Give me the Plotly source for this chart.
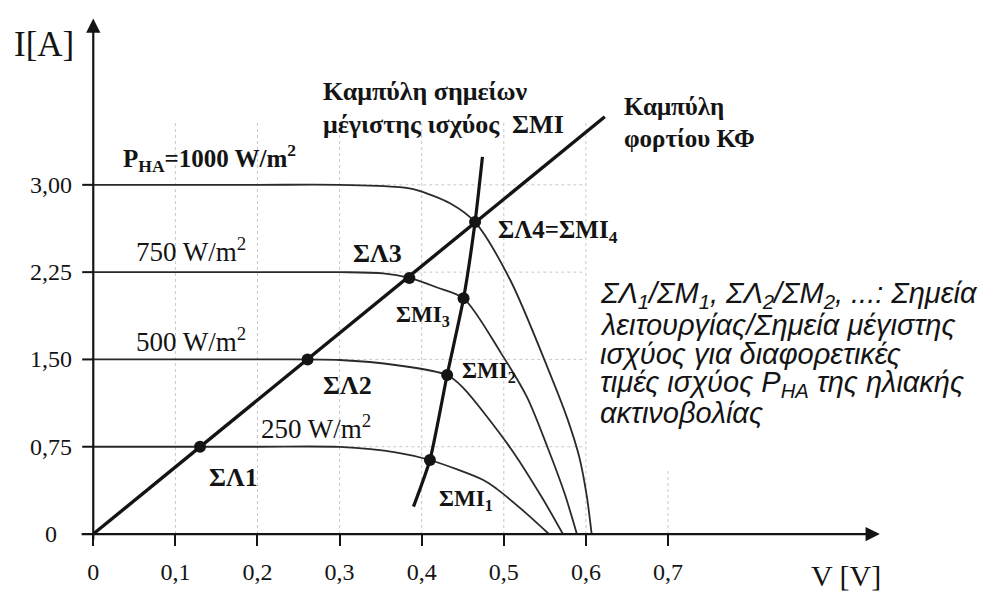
import plotly.graph_objects as go

# ---- data (V in volts, I in amperes) ----
v_1000 = [0.0, 0.20, 0.30, 0.373, 0.394, 0.435, 0.465, 0.508, 0.555, 0.577, 0.592, 0.601, 0.607]
i_1000 = [3.00, 3.00, 3.00, 2.98, 2.955, 2.84, 2.68, 2.18, 1.40, 1.00, 0.66, 0.33, 0.0]

v_750 = [0.0, 0.20, 0.30, 0.353, 0.385, 0.418, 0.451, 0.497, 0.528, 0.553, 0.574, 0.589]
i_750 = [2.25, 2.25, 2.25, 2.24, 2.20, 2.12, 2.025, 1.55, 1.18, 0.75, 0.35, 0.0]

v_500 = [0.0, 0.20, 0.30, 0.37, 0.431, 0.450, 0.508, 0.546, 0.572]
i_500 = [1.50, 1.50, 1.495, 1.45, 1.366, 1.26, 0.74, 0.32, 0.0]

v_250 = [0.0, 0.20, 0.30, 0.37, 0.410, 0.475, 0.491, 0.527, 0.555]
i_250 = [0.75, 0.75, 0.748, 0.70, 0.636, 0.464, 0.39, 0.18, 0.0]

# load line (Καμπύλη φορτίου)
v_load = [0.0, 0.623]
i_load = [0.0, 3.585]

# maximum power point curve (ΣΜΙ)
v_mpp = [0.390, 0.410, 0.431, 0.451, 0.465, 0.474]
i_mpp = [0.235, 0.636, 1.366, 2.025, 2.68, 3.24]

# operating points ΣΛ1..ΣΛ4 and max power points ΣΜΙ1..ΣΜΙ3
v_op = [0.130, 0.261, 0.385, 0.465]
i_op = [0.75, 1.50, 2.20, 2.68]
v_mp = [0.410, 0.431, 0.451]
i_mp = [0.636, 1.366, 2.025]

x_ticks = [0, 0.1, 0.2, 0.3, 0.4, 0.5, 0.6, 0.7]
x_ticktext = ["0", "0,1", "0,2", "0,3", "0,4", "0,5", "0,6", "0,7"]
y_ticks = [0, 0.75, 1.50, 2.25, 3.00]
y_ticktext = ["0", "0,75", "1,50", "2,25", "3,00"]

# ---- layout geometry ----
W, H = 986, 597
X_RANGE = [-0.1136, 1.0873]
Y_RANGE = [-0.541, 4.588]
SERIF = "Liberation Serif, Times New Roman, serif"
SANS = "Liberation Sans, Arial, sans-serif"
INK = "#141414"


def paper(px, py):
    return px / W, 1 - py / H


fig = go.Figure()

# faint dotted grid
grid_style = dict(color="#c8c8c8", width=1, dash="dot")
for xv in x_ticks[1:]:
    top = 3.55 if xv <= 0.6 else 0.55
    fig.add_shape(type="line", xref="x", yref="y", x0=xv, x1=xv, y0=0, y1=top,
                  line=grid_style, layer="below")
for yv in y_ticks[1:]:
    fig.add_shape(type="line", xref="x", yref="y", x0=0, x1=0.6, y0=yv, y1=yv,
                  line=grid_style, layer="below")

# I-V curves
for vv, ii in [(v_1000, i_1000), (v_750, i_750), (v_500, i_500), (v_250, i_250)]:
    fig.add_trace(go.Scatter(x=vv, y=ii, mode="lines",
                             line=dict(color="#2a2a2a", width=1.8, shape="spline", smoothing=0.8),
                             hoverinfo="skip", showlegend=False))

# load line and max power curve
fig.add_trace(go.Scatter(x=v_load, y=i_load, mode="lines",
                         line=dict(color=INK, width=3.4), showlegend=False))
fig.add_trace(go.Scatter(x=v_mpp, y=i_mpp, mode="lines",
                         line=dict(color=INK, width=3.2, shape="spline", smoothing=0.6),
                         showlegend=False))

# points
fig.add_trace(go.Scatter(x=v_op + v_mp, y=i_op + i_mp, mode="markers",
                         marker=dict(color=INK, size=12), showlegend=False))

annotations = []

# axis arrows
annotations.append(dict(x=0.958, y=0, ax=-0.016, ay=0, xref="x", yref="y", axref="x", ayref="y",
                        text="", showarrow=True, arrowhead=2, arrowsize=1.3, arrowwidth=2.2,
                        arrowcolor=INK))
annotations.append(dict(x=0, y=4.43, ax=0, ay=-0.06, xref="x", yref="y", axref="x", ayref="y",
                        text="", showarrow=True, arrowhead=2, arrowsize=1.3, arrowwidth=2.2,
                        arrowcolor=INK))

# y tick labels, centred in the left margin
for yv, yt in zip(y_ticks, y_ticktext):
    annotations.append(dict(x=51 / W, y=yv, xref="paper", yref="y", text=yt, showarrow=False,
                            xanchor="center", yanchor="middle",
                            font=dict(family=SERIF, size=24, color=INK)))
# small tick marks left of the y axis
for yv in y_ticks:
    fig.add_shape(type="line", xref="x", yref="y", x0=-0.0135, x1=0, y0=yv, y1=yv,
                  line=dict(color=INK, width=2))


def label(px, py, text, size=23, family=SERIF, anchor="left", bold=True, italic=False):
    x, y = paper(px, py)
    t = f"<b>{text}</b>" if bold else text
    if italic:
        t = f"<i>{t}</i>"
    annotations.append(dict(x=x, y=y, xref="paper", yref="paper", text=t, showarrow=False,
                            xanchor=anchor, yanchor="middle",
                            font=dict(family=family, size=size, color=INK)))


label(44, 45, "I[A]", size=35, anchor="center", bold=False)
label(846, 575, "V [V]", size=30, anchor="center", bold=False)

label(121, 158, "P<sub>HA</sub>=1000 W/m<sup>2</sup>", size=25)
label(134, 250, "750 W/m<sup>2</sup>", size=27, bold=False)
label(134, 340, "500 W/m<sup>2</sup>", size=27, bold=False)
label(259, 427, "250 W/m<sup>2</sup>", size=27, bold=False)

label(233, 477, "ΣΛ1", size=26, anchor="center")
label(347, 385, "ΣΛ2", size=26, anchor="center")
label(377, 253, "ΣΛ3", size=26, anchor="center")
label(496, 231, "ΣΛ4=ΣΜΙ<sub>4</sub>", size=25)
label(394, 316, "ΣΜΙ<sub>3</sub>")
label(460, 372, "ΣΜΙ<sub>2</sub>")
label(437, 500, "ΣΜΙ<sub>1</sub>")

label(321, 92, "Καμπύλη σημείων", size=26)
label(321, 125, "μέγιστης ισχύος  ΣΜΙ", size=26)
label(622, 106, "Καμπύλη", size=25)
label(622, 138, "φορτίου ΚΦ", size=25)

note_lines = [
    "ΣΛ<sub>1</sub>/ΣΜ<sub>1</sub>, ΣΛ<sub>2</sub>/ΣΜ<sub>2</sub>, ...: Σημεία",
    "λειτουργίας/Σημεία μέγιστης",
    "ισχύος για διαφορετικές",
    "τιμές ισχύος P<sub>HA</sub> της ηλιακής",
    "ακτινοβολίας",
]
for k, line in enumerate(note_lines):
    label(598, 295 + 29.5 * k, line, size=29, family=SANS, bold=False, italic=True)

y0_frac = (0 - Y_RANGE[0]) / (Y_RANGE[1] - Y_RANGE[0])

fig.update_layout(
    width=W, height=H,
    margin=dict(l=0, r=0, t=0, b=0),
    paper_bgcolor="white", plot_bgcolor="white",
    showlegend=False,
    annotations=annotations,
    xaxis=dict(range=X_RANGE, anchor="free", position=y0_frac,
               tickvals=x_ticks, ticktext=x_ticktext, ticks="outside", ticklen=11,
               tickwidth=2, tickcolor=INK, ticklabelstandoff=5,
               tickfont=dict(family=SERIF, size=24, color=INK),
               showgrid=False, zeroline=False, showline=False, fixedrange=True),
    yaxis=dict(range=Y_RANGE, showticklabels=False, ticks="",
               showgrid=False, zeroline=False, showline=False, fixedrange=True),
)

fig.write_html("out.html")
